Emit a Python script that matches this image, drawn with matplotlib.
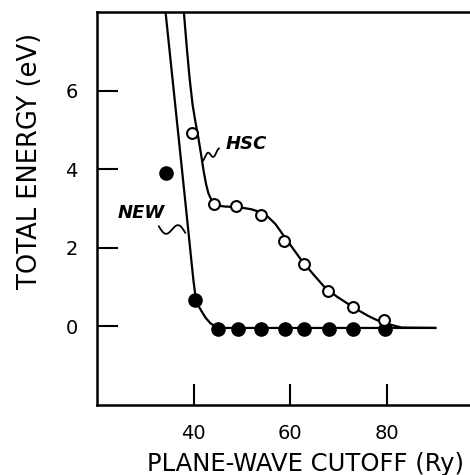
import matplotlib
matplotlib.use("Agg")
import matplotlib.pyplot as plt
import numpy as np

hsc_x = [39.7, 44.2, 48.8, 53.9, 58.8, 63.0, 67.8, 73.0, 79.5]
hsc_y = [4.93, 3.12, 3.07, 2.84, 2.18, 1.58, 0.89, 0.50, 0.15]
new_x = [34.4, 40.4, 45.1, 49.2, 53.9, 59.0, 62.8, 68.0, 73.0, 79.6]
new_y = [3.91, 0.66, -0.06, -0.06, -0.06, -0.06, -0.06, -0.06, -0.06, -0.06]

# hand-drawn fit curves (traced)
hsc_curve_x = [38.0, 38.6, 39.2, 39.8, 40.4, 41.0, 41.6, 42.1, 42.6, 43.1, 43.7,
               44.4, 45.2, 46.5, 48.0, 50.0, 52.0, 54.0, 55.5, 57.0, 58.5, 60.5,
               62.5, 65.0, 67.3, 69.8, 72.2, 74.3, 76.3, 78.0, 79.8, 81.5, 83.2, 90.1]
hsc_curve_y = [8.0, 7.1, 6.3, 5.65, 5.2, 4.8, 4.35, 3.95, 3.62, 3.38, 3.22,
               3.12, 3.07, 3.05, 3.04, 3.02, 2.98, 2.9, 2.78, 2.6, 2.34, 2.0,
               1.66, 1.3, 0.98, 0.75, 0.56, 0.4, 0.26, 0.16, 0.08, 0.02, -0.03, -0.04]
new_curve_x = [34.2, 35.9, 37.6, 38.9, 39.6, 40.0, 40.4, 40.9, 41.6, 42.5, 43.5,
               44.5, 45.5, 90.1]
new_curve_y = [8.0, 6.0, 4.0, 2.46, 1.62, 1.15, 0.78, 0.55, 0.4, 0.22, 0.08,
               0.0, -0.04, -0.04]

xticks = [40, 60, 80]
yticks = [0, 2, 4, 6]


def squiggle(ax, x0, y0, x1, y1, amp, periods, phase=0.0):
    # little wavy leader line like the hand lettering ones
    t = np.linspace(0, 1, 60)
    xs = x0 + (x1 - x0) * t
    ys = y0 + (y1 - y0) * t + amp * np.sin(2 * np.pi * periods * t + phase)
    ax.plot(xs, ys, color='black', lw=1.3, solid_capstyle='round')


fig = plt.figure(figsize=(4.7, 4.75), dpi=100)
ax = fig.add_axes([0.2064, 0.1474, 1 - 0.2064, 0.8274])

ax.plot(hsc_curve_x, hsc_curve_y, color='black', lw=1.6, zorder=2,
        solid_joinstyle='round')
ax.plot(new_curve_x, new_curve_y, color='black', lw=1.6, zorder=2,
        solid_joinstyle='round')
ax.plot(new_x, new_y, 'o', color='black', ms=9.5, zorder=3)
ax.plot(hsc_x, hsc_y, 'o', mfc='white', mec='black', mew=1.5, ms=7.8, zorder=4)

ax.text(46.6, 4.63, 'HSC', fontsize=13, fontweight='bold', fontstyle='italic',
        va='center', ha='left')
ax.text(24.2, 2.89, 'NEW', fontsize=13, fontweight='bold', fontstyle='italic',
        va='center', ha='left')
squiggle(ax, 41.8, 4.28, 45.3, 4.45, 0.08, 1.5, phase=np.pi / 2 + np.pi)
squiggle(ax, 32.8, 2.55, 38.3, 2.38, 0.15, 1.0, phase=np.pi)

ax.set_xlim(20, 97.3)
ax.set_ylim(-2, 8)
ax.set_xticks(xticks)
ax.set_yticks(yticks)
ax.tick_params(direction='in', length=15, width=1.5, labelsize=14, pad=14)
for side in ['left', 'bottom', 'top']:
    ax.spines[side].set_linewidth(1.8)
ax.spines['right'].set_visible(False)

ax.set_xlabel('PLANE-WAVE CUTOFF (Ry)', fontsize=17.5, va='center')
ax.xaxis.set_label_coords(0.558, -0.150)
ax.set_ylabel('TOTAL ENERGY (eV)', fontsize=18.5, va='center')
ax.yaxis.set_label_coords(-0.18, 0.622)

fig.savefig('out.png', dpi=100)
